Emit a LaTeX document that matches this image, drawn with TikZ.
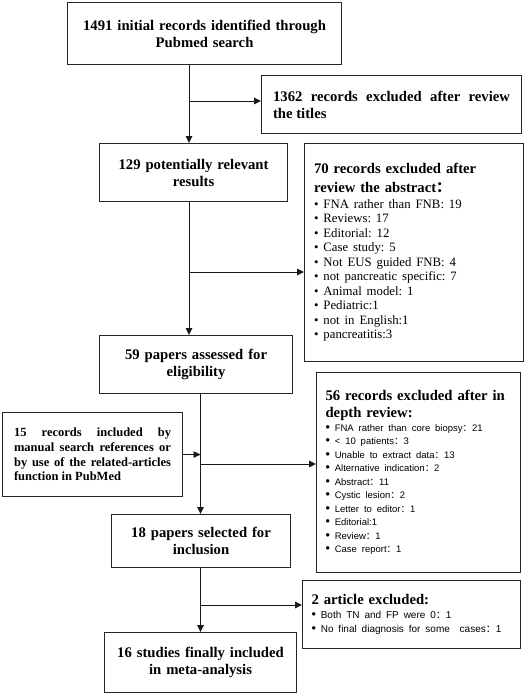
\documentclass[tikz,border=0pt]{standalone}
\usepackage{fontspec}
\setmainfont{Liberation Serif}
\newfontfamily\arial{Liberation Sans}
\newfontfamily\cjk{Noto Sans CJK SC}
\usetikzlibrary{arrows.meta}
\newcommand{\fwc}{{\cjk ：}}
\newcommand{\sbul}{{\fontsize{12.5}{0}\selectfont\textbullet}\ }
\frenchspacing
\begin{document}
\begin{tikzpicture}[x=1pt,y=-1pt,
  box/.style={draw=black!85,line width=1.1pt,anchor=north west,inner sep=0pt,
    font=\bfseries\fontsize{14.7}{17}\selectfont,align=center},
  arr/.style={line width=1pt,draw=black!90,-{Triangle[length=7pt,width=6.5pt]}},
]
\fill[white] (0,0) rectangle (525,694);
\useasboundingbox (0,0) rectangle (525,694);

\node[box,minimum width=274pt,minimum height=62pt,text width=262pt] (b1) at (67,2)
  {1491 initial records identified through\\Pubmed search};
\node[box,align=justify,minimum width=260pt,minimum height=58pt,text width=237pt] (b2) at (261,75)
  {1362 records excluded after review\linebreak the titles};
\node[box,minimum width=188pt,minimum height=58pt,text width=176pt] (b3) at (99,143)
  {129 potentially relevant\\results};
\node[box,align=left,minimum width=219pt,minimum height=218pt,text width=200pt] (b4) at (304,143)
  {\fontsize{14.7}{19}\selectfont 70 records excluded after\\review the abstract\fwc\par
   \vspace{1pt}\fontsize{12.8}{14.5}\selectfont\mdseries
   \textbullet\ FNA rather than FNB: 19\\
   \textbullet\ Reviews: 17\\
   \textbullet\ Editorial: 12\\
   \textbullet\ Case study: 5\\
   \textbullet\ Not EUS guided FNB: 4\\
   \textbullet\ not pancreatic specific: 7\\
   \textbullet\ Animal model: 1\\
   \textbullet\ Pediatric:1\\
   \textbullet\ not in English:1\\
   \textbullet\ pancreatitis:3\par\vspace{14pt}};
\node[box,minimum width=193pt,minimum height=58pt,text width=181pt] (b5) at (99,335)
  {59 papers assessed for\\eligibility};
\node[box,align=justify,minimum width=180pt,minimum height=84pt,text width=157pt,
  font=\bfseries\fontsize{12.5}{14.7}\selectfont] (b6) at (2,412)
  {15 records included by\linebreak manual search references or\linebreak by use of the related-articles\linebreak function in PubMed};
\node[box,align=left,minimum width=204pt,minimum height=200pt,text width=186pt] (b7) at (316,372)
  {\fontsize{14.7}{17}\selectfont 56 records excluded after in\\depth review:\par
   \arial\fontsize{9.5}{13.5}\selectfont\mdseries
   \sbul FNA rather than core biopsy\fwc 21\\
   \sbul {<} 10 patients\fwc 3\\
   \sbul Unable to extract data\fwc 13\\
   \sbul Alternative indication\fwc 2\\
   \sbul Abstract\fwc 11\\
   \sbul Cystic lesion\fwc 2\\
   \sbul Letter to editor\fwc 1\\
   \sbul Editorial:1\\
   \sbul Review\fwc 1\\
   \sbul Case report\fwc 1\par\vspace{10pt}};
\node[box,minimum width=179pt,minimum height=53pt,text width=167pt] (b8) at (111,514)
  {18 papers selected for\\inclusion};
\node[box,align=left,minimum width=218pt,minimum height=68pt,text width=200pt] (b9) at (302,580)
  {\fontsize{14.7}{17}\selectfont 2 article excluded:\par
   \arial\fontsize{10}{14}\selectfont\mdseries
   \sbul Both TN and FP were 0\fwc 1\\
   \sbul No final diagnosis for some\ \ cases\fwc 1\par\vspace{6pt}};
\node[box,minimum width=192pt,minimum height=60pt,text width=180pt] (b10) at (104,632)
  {16 studies finally included\\in meta-analysis};

\coordinate (va) at (189,0);
\coordinate (vb) at (200.5,0);
\coordinate (j1) at (189,101);
\coordinate (j2) at (189,272);
\coordinate (j3) at (200.5,464);
\coordinate (j4) at (200.5,605);

\draw[arr] (b1.south -| va) -- (b3.north -| va);
\draw[arr] (j1) -- (j1 -| b2.west);
\draw[arr] (b3.south -| va) -- (b5.north -| va);
\draw[arr] (j2) -- (j2 -| b4.west);
\draw[arr] (b5.south -| vb) -- (b8.north -| vb);
\draw[arr] (b6.east) -- (b6.east -| vb);
\draw[arr] (j3) -- (j3 -| b7.west);
\draw[arr] (b8.south -| vb) -- (b10.north -| vb);
\draw[arr] (j4) -- (j4 -| b9.west);
\end{tikzpicture}
\end{document}
